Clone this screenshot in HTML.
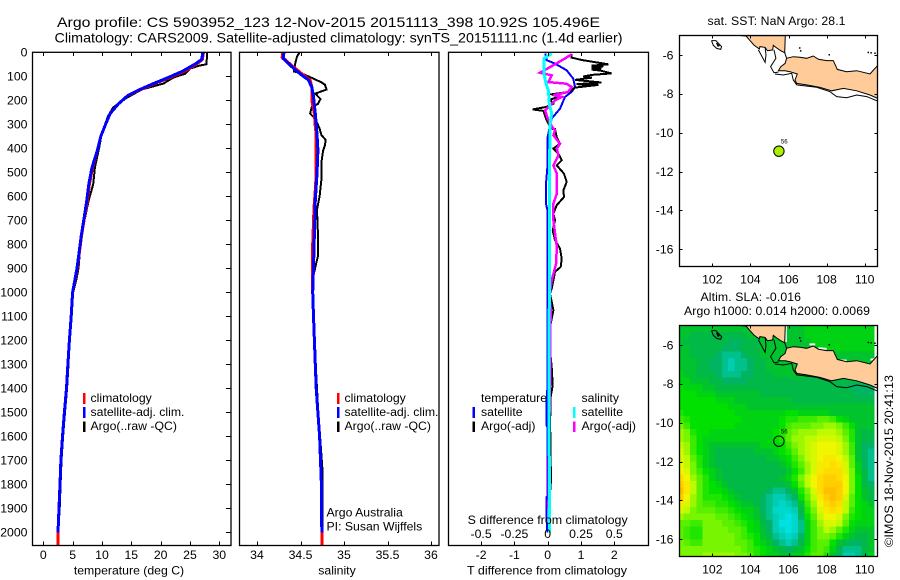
<!DOCTYPE html>
<html lang="en">
<head>
<meta charset="utf-8">
<title>Argo profile chart</title>
<style>
html,body{margin:0;padding:0;background:#fff;}
svg{display:block;font-family:"Liberation Sans",sans-serif;font-size:12.25px;fill:#000;}
text{fill:#000;stroke:none;}
.box{fill:none;stroke:#000;stroke-width:1.3;}
.tick{stroke:#000;stroke-width:1;shape-rendering:crispEdges;}
.ln{fill:none;stroke-linejoin:miter;shape-rendering:crispEdges;}
</style>
</head>
<body>
<svg id="chart" xmlns="http://www.w3.org/2000/svg" width="900" height="580" viewBox="0 0 900 580">
<rect x="0" y="0" width="900" height="580" style="fill:#fff"/>
<text x="57" y="27" font-size="14" textLength="543" lengthAdjust="spacingAndGlyphs">Argo profile: CS 5903952_123 12-Nov-2015 20151113_398 10.92S 105.496E</text>
<text x="54.5" y="42.5" font-size="14" textLength="568" lengthAdjust="spacingAndGlyphs">Climatology: CARS2009. Satellite-adjusted climatology: synTS_20151111.nc (1.4d earlier)</text>

<text x="129" y="574.5" text-anchor="middle">temperature (deg C)</text>
<text x="337" y="574.5" text-anchor="middle">salinity</text>
<text x="547" y="574.5" text-anchor="middle" textLength="160" lengthAdjust="spacingAndGlyphs">T difference from climatology</text>

<g id="layer-profiles"></g>
<g id="layer-maps"></g>

<text x="547.7" y="524" text-anchor="middle" textLength="160" lengthAdjust="spacingAndGlyphs">S difference from climatology</text>

<g>
<rect x="83" y="393" width="2.5" height="11" style="fill:#ff0000"/>
<rect x="83" y="407" width="2.5" height="11" style="fill:#0000ff"/>
<rect x="83" y="421.5" width="2.5" height="10.5" style="fill:#000"/>
<text x="90.5" y="402">climatology</text>
<text x="90.5" y="416">satellite-adj. clim.</text>
<text x="90.5" y="430">Argo(..raw -QC)</text>
</g>
<g>
<rect x="337" y="393" width="2.5" height="11" style="fill:#ff0000"/>
<rect x="337" y="407" width="2.5" height="11" style="fill:#0000ff"/>
<rect x="337" y="421.5" width="2.5" height="10.5" style="fill:#000"/>
<text x="344.5" y="402">climatology</text>
<text x="344.5" y="416">satellite-adj. clim.</text>
<text x="344.5" y="430">Argo(..raw -QC)</text>
<text x="326.5" y="516.5">Argo Australia</text>
<text x="326.5" y="530.5">PI: Susan Wijffels</text>
</g>
<g>
<text x="481" y="402">temperature</text>
<rect x="472.5" y="407" width="2.5" height="11" style="fill:#0000ff"/>
<rect x="472.5" y="421.5" width="2.5" height="10.5" style="fill:#000"/>
<text x="481" y="416">satellite</text>
<text x="481" y="430">Argo(-adj)</text>
<text x="581.5" y="402">salinity</text>
<rect x="573" y="407" width="2.5" height="11" style="fill:#00ffff"/>
<rect x="573" y="421.5" width="2.5" height="10.5" style="fill:#ff00ff"/>
<text x="581.5" y="416">satellite</text>
<text x="581.5" y="430">Argo(-adj)</text>
</g>

<text x="707.5" y="25" textLength="138" lengthAdjust="spacing">sat. SST: NaN  Argo: 28.1</text>
<text x="700.5" y="301" textLength="100.5" lengthAdjust="spacing">Altim. SLA: -0.016</text>
<text x="684" y="315" textLength="186" lengthAdjust="spacing">Argo h1000: 0.014 h2000: 0.0069</text>
<text transform="translate(893,547) rotate(-90)" textLength="172" lengthAdjust="spacingAndGlyphs">©IMOS 18-Nov-2015 20:41:13</text>
</svg>
<script>
// ---------- profile data ----------
var tempTicks = [0, 5, 10, 15, 20, 25, 30];
var salTicks = [34, 34.5, 35, 35.5, 36];
var tDiffTicks = [-2, -1, 0, 1, 2];
var sDiffTicks = [-0.5, -0.25, 0, 0.25, 0.5];
var depthTicks = [0,100,200,300,400,500,600,700,800,900,1000,1100,1200,1300,1400,1500,1600,1700,1800,1900,2000];

var climTempDepth = [0,30,50,78,105,130,160,180,215,255,295,350,410,480,550,620,690,760,900,1000,1100,1200,1300,1400,1500,1600,1700,1800,1900,2000,2055];
var climTemp = [27.3,27.1,26.1,24.1,21.6,19.0,16.2,14.4,12.8,11.4,10.7,9.8,9.2,8.4,7.85,7.5,7.0,6.55,5.8,5.0,4.75,4.45,4.2,3.95,3.6,3.28,3.0,2.85,2.68,2.5,2.5];
var satTempDepth = [0,30,50,78,105,130,160,180,215,255,295,350,410,480,550,620,690,760,900,1000,1100,1200,1300,1400,1500,1600,1700,1800,1900,2000];
var satTemp = [27.2,27.0,25.8,23.8,21.3,18.8,16.0,14.4,12.8,11.4,10.7,9.8,9.2,8.3,7.75,7.4,6.95,6.5,5.75,5.0,4.75,4.45,4.2,3.95,3.6,3.28,3.0,2.85,2.68,2.5];
var argoTempDepth = [0,50,55,68,90,105,130,155,190,230,268,340,395,480,550,620,690,760,900,950,1000,1100,1200,1300,1400,1500,1600,1700,1800,1900,1975];
var argoTemp = [27.95,27.8,26.7,25,24.1,22.2,20.5,16.8,14.2,11.9,11,9.95,9.55,8.8,8.5,7.7,7.1,6.5,6,5.6,5.1,4.8,4.5,4.3,4.05,3.7,3.38,3.1,2.95,2.8,2.6];

var climSalDepth = [0,20,60,88,115,145,200,255,310,340,450,550,650,800,900,1000,1100,1200,1300,1400,1500,1600,1700,1800,2000,2055];
var climSal = [34.295,34.29,34.415,34.51,34.61,34.63,34.63,34.66,34.67,34.68,34.68,34.675,34.655,34.64,34.64,34.64,34.65,34.66,34.67,34.68,34.70,34.72,34.73,34.74,34.745,34.745];
var satSalDepth = [0,26,60,88,115,145,185,255,340,408,505,615,755,895,1000,1100,1200,1300,1400,1500,1600,1700,1800,2000];
var satSal = [34.31,34.30,34.40,34.49,34.59,34.63,34.65,34.67,34.69,34.70,34.69,34.67,34.66,34.65,34.64,34.65,34.66,34.67,34.68,34.70,34.72,34.73,34.74,34.745];
var argoSalDepth = [0,18,45,80,88,100,125,135,155,172,195,215,228,255,277,318,345,365,388,410,460,530,600,655,755,850,895,965,1000,1100,1300,1500,1730,1855,1980];
var argoSal = [34.49,34.46,34.44,34.425,34.51,34.59,34.74,34.78,34.80,34.67,34.73,34.70,34.63,34.61,34.67,34.72,34.74,34.79,34.78,34.76,34.74,34.74,34.72,34.69,34.70,34.70,34.67,34.63,34.64,34.655,34.675,34.705,34.75,34.75,34.75];

var satTDiffDepth = [5,33,47,75,110,144,165,186,235,276,318,353,478,547,631,658,769,922,1019,1400,1457,1554,1560,1850,1855,1935,2000];
var satTDiff = [-0.07,-0.03,0.22,0.57,0.77,0.82,0.72,0.52,0.37,0.12,0.05,0,-0.01,-0.05,-0.05,-0.01,-0.01,0,0,-0.01,-0.04,-0.04,-0.01,-0.01,-0.04,-0.04,-0.01];
var satSalDiffDepth = [5,26,90,130,160,215,255,300,600,1000,1500,2000];
var satSalDiff = [0.03,-0.028,-0.028,-0.013,0.005,0.012,0.03,0.017,0.012,0.012,0.01,0.015];
var argoTDiffDepth = [8,22,32,50,56,58,64,67,72,76,88,94,101,106,115,126,133,136,147,164,175,186,197,214,228,238,244,276,297,318,320,353,381,401,429,450,471,506,540,575,603,637,672,700,742,783,818,860,894,915,950,985,1006,1075,1131,1270,1311,1387,1436,1561,1617,1714,1783,1839,1900];
var argoTDiff = [0.72,0.72,1.02,1.82,1.32,1.67,1.32,1.62,1.32,1.57,1.92,1.32,1.07,1.32,0.82,1.62,0.87,1.52,0.82,0.67,0.12,0.32,0.07,0.17,-0.05,-0.45,-0.13,-0.05,0.02,0.09,0.22,0.27,0.37,0.17,0.35,0.42,0.27,0.49,0.57,0.47,0.49,0.27,0.17,0.22,0.15,0.22,0.37,0.42,0.39,0.22,0.17,0.12,0.07,0.17,0.09,0.09,0.12,0.15,0.09,0.07,0.09,0.09,0.1,0.07,0.04];
var argoSalDiffDepth = [8,26,50,85,96,124,131,144,165,179,186,200,242,276,308,325,346,381,401,429,471,506,589,631,700,811,881,950,1019,1075,1186,1367,1547,1783,1900];
var argoSalDiff = [0.18,0.13,0.055,-0.058,0.03,0.005,0.14,0.18,0.155,0.043,0.105,0.055,-0.02,0,0.03,0.055,0.043,0.093,0.068,0.08,0.043,0.068,0.068,0.043,0.043,0.068,0.063,0.03,0.012,0.023,0.018,0.018,0.012,0.008,0.005];

// ---------- map data ----------
var lonTicks = [102, 104, 106, 108, 110];
var latTicks = [-6, -8, -10, -12, -14, -16];
var floatLon = 105.496;
var floatLat = -10.95;
var sumatraLon = [103.49,103.77,103.98,104.19,104.47,104.50,104.77,104.89,105.17,105.20,105.34,105.59,105.80,105.83];
var sumatraLat = [-5,-5.02,-5.26,-5.49,-5.69,-5.57,-5.61,-5.78,-5.74,-5.50,-5.61,-5.78,-5.88,-5];
var javaLon = [105.47,105.59,105.82,105.90,106.25,106.60,106.95,107.30,107.57,108.00,108.35,108.56,109.05,109.58,110.28,110.46,110.67,110.67,110.28,109.58,108.88,108.27,107.65,106.95,106.43,106.34,106.46,106.08,105.82];
var javaLat = [-6.81,-6.60,-6.43,-6.17,-6.09,-6.12,-6.17,-6.05,-6.22,-6.29,-6.29,-6.74,-6.86,-6.81,-6.98,-6.77,-6.55,-8.23,-8.06,-7.84,-7.72,-7.84,-7.66,-7.54,-7.46,-7.29,-6.98,-6.86,-6.81];
var shelfLon = [105.29,105.73,106.17,106.25,106.43,107.48,108.18,108.53,109.05,109.58,110.11,110.67];
var shelfLat = [-6.98,-7.03,-6.94,-7.29,-7.54,-7.66,-7.89,-8.14,-8.20,-8.06,-8.14,-8.37];
var tipLon = [105.24,105.34,105.06,105.24,105.47];
var tipLat = [-5.74,-6.17,-6.60,-6.91,-6.88];
var westCoastLon = [104.42,104.77,104.82,104.77];
var westCoastLat = [-5.74,-6.38,-6.0,-5.61];
var straitLon = [105.80,105.90];
var straitLat = [-5.88,-6.17];
var islandLon = [101.96,102.19,102.49,102.44,102.23,102.05,101.96];
var islandLat = [-5.26,-5.26,-5.57,-5.71,-5.66,-5.5,-5.26];
var islandInnerLon = [102.22,102.36,102.30,102.22];
var islandInnerLat = [-5.38,-5.52,-5.55,-5.38];
var islesLon = [106.55,106.6,108.1,110.15,110.3,110.5];
var islesLat = [-5.6,-5.75,-5.95,-5.83,-5.85,-5.87];
// White no-data slivers along the coast in the SLA map
var gapStartLon = [107.1,107.57,108.6,110.3,105.86];
var gapStartLat = [-5.97,-6.17,-6.8,-6.75,-5.0];
var gapEndLon = [107.4,108.0,109.05,110.63,105.86];
var gapEndLat = [-5.97,-6.2,-6.8,-6.72,-5.85];

// Sea level anomaly levels (half units), rows from north to south, columns from west to east
var slaLevels = [
[-2,-2,-2,-2,-2,-2,-2,-2,-2,-2,-2,-2,-2,-2,-2,-2,-2,-2,-2,-2,-1,-1,-1,-1,-1,-1,-1,-1,-1,-1,-1],
[-2,-2,-3,-3,-3,-3,-3,-3,-3,-3,-3,-2,-2,-2,-2,-2,-2,-2,-2,-2,-1,-1,-1,-1,-1,-1,-1,-1,-1,-1,-1],
[-2,-3,-3,-3,-3,-3,-3,-3,-4,-4,-3,-3,-3,-2,-2,-2,-2,-2,-2,-2,-2,-1,-1,-1,-1,-1,-1,-1,-1,-1,-1],
[-2,-2,-3,-3,-3,-3,-3,-4,-4,-4,-3,-3,-3,-2,-2,-2,-2,-2,-2,-2,-2,-2,-1,-1,-1,-1,-1,-1,-1,-1,-1],
[-2,-2,-3,-3,-3,-3,-4,-5,-5,-5,-4,-3,-3,-2,-2,-2,-2,-2,-2,-2,-2,-2,-2,-2,-2,-2,-2,-2,-2,-2,-2],
[-2,-2,-2,-3,-3,-4,-4,-5,-6,-5,-5,-4,-3,-3,-2,-2,-2,-2,-2,-2,-2,-2,-2,-2,-2,-2,-2,-2,-2,-2,-2],
[-2,-2,-2,-3,-3,-4,-4,-5,-6,-5,-5,-4,-3,-3,-2,-2,-2,-2,-2,-2,-2,-2,-2,-2,-2,-2,-2,-2,-2,-2,-2],
[-1,-2,-2,-3,-3,-3,-4,-5,-5,-5,-4,-4,-3,-3,-3,-2,-2,-2,-2,-2,-2,-2,-2,-2,-3,-3,-3,-3,-3,-3,-3],
[-1,-1,-2,-2,-2,-3,-3,-4,-4,-4,-4,-3,-3,-3,-3,-3,-3,-3,-3,-3,-3,-3,-3,-3,-3,-3,-3,-3,-3,-4,-4],
[0,-1,-1,-1,-2,-2,-3,-3,-3,-3,-3,-3,-3,-3,-3,-3,-3,-3,-3,-3,-3,-3,-3,-3,-3,-3,-3,-4,-4,-4,-4],
[0,0,0,-1,-1,-1,-2,-2,-2,-2,-2,-2,-2,-3,-3,-3,-3,-3,-3,-3,-3,-3,-3,-3,-3,-3,-3,-3,-4,-4,-4],
[0,0,0,0,0,0,-1,-1,-1,-2,-2,-2,-2,-2,-2,-2,-2,-2,-3,-3,-3,-3,-3,-3,-3,-3,-3,-3,-3,-3,-3],
[0,0,0,0,0,0,0,0,-1,-1,-1,-2,-2,-2,-2,-2,-2,-2,-2,-2,-2,-2,-2,-2,-2,-2,-2,-2,-2,-2,-2],
[1,0,0,0,0,0,0,0,0,-1,-1,-1,-1,-1,-1,-1,-1,0,0,-1,-1,-1,-1,-1,-2,-2,-2,-2,-2,-2,-2],
[2,1,0,0,0,0,0,0,0,0,-1,-1,-1,-1,-1,-1,0,1,1,2,2,2,3,3,2,0,-1,-2,-2,-2,-2],
[4,2,0,0,0,0,0,0,0,-1,-1,-1,-1,-1,-1,-1,0,2,3,3,3,4,4,5,5,4,2,0,-2,-2,-2],
[5,4,1,0,0,-1,-1,-1,-1,-1,-1,-1,-1,-1,-1,0,1,3,4,5,5,5,6,6,6,5,3,1,-2,-3,-3],
[5,4,2,0,-1,-1,-1,-1,-1,-1,-1,-1,-1,-1,-1,0,1,3,5,5,6,6,7,7,7,6,4,1,-2,-3,-3],
[6,5,2,0,-1,-2,-2,-2,-2,-2,-2,-2,-2,-1,-1,-1,0,2,4,5,6,7,8,8,8,7,5,2,-2,-4,-4],
[7,5,2,0,-1,-2,-3,-3,-3,-3,-3,-3,-2,-2,-2,-1,0,1,3,5,6,7,8,8,8,7,5,2,-2,-4,-5],
[7,6,3,1,-1,-2,-3,-3,-3,-3,-3,-3,-3,-3,-2,-2,-1,0,2,4,6,7,8,9,9,8,6,3,-2,-4,-5],
[8,6,4,1,-1,-2,-3,-3,-3,-3,-3,-3,-3,-3,-3,-3,-2,-1,1,3,5,7,9,9,10,9,7,3,-1,-4,-5],
[8,7,4,2,0,-1,-2,-3,-3,-3,-3,-3,-3,-3,-3,-3,-3,-2,0,2,5,7,9,10,10,10,7,4,-1,-3,-5],
[10,8,5,3,1,-1,-2,-3,-3,-3,-3,-3,-3,-3,-3,-3,-2,-1,1,4,6,8,10,11,11,10,8,4,0,-3,-5],
[11,9,6,3,1,0,-1,-2,-3,-3,-3,-3,-3,-3,-3,-3,-3,-2,0,3,6,8,10,11,11,11,8,4,0,-3,-4],
[12,9,6,3,1,0,0,-1,-2,-3,-3,-3,-3,-3,-4,-5,-5,-4,-2,1,4,7,10,12,12,11,8,4,0,-2,-3],
[11,8,5,3,1,1,1,0,-1,-2,-3,-3,-3,-4,-5,-6,-6,-5,-4,0,3,6,9,11,12,11,7,3,0,-2,-3],
[9,7,5,3,2,2,1,1,0,-1,-2,-2,-3,-4,-5,-6,-7,-6,-5,-2,2,5,8,10,11,10,6,3,0,-1,-2],
[7,6,4,3,3,3,2,2,1,0,-1,-1,-2,-4,-5,-7,-7,-7,-6,-3,1,4,7,9,10,9,6,2,0,-1,-1],
[5,4,4,4,4,4,3,3,2,1,0,-1,-2,-3,-5,-6,-7,-8,-7,-4,0,3,6,8,8,7,4,1,0,-1,-1],
[3,3,2,2,4,4,4,3,3,2,1,0,-1,-3,-4,-6,-8,-8,-7,-5,-1,2,5,7,7,6,3,0,-1,-1,-1],
[3,2,1,1,4,4,4,4,3,3,2,0,-1,-2,-4,-6,-7,-8,-7,-5,-1,2,4,6,5,3,1,-1,-2,-2,-2],
[3,2,1,1,4,4,4,4,4,3,2,1,0,-2,-3,-5,-6,-7,-6,-4,-1,2,4,4,3,1,-1,-2,-3,-3,-2],
[4,3,2,2,4,4,4,4,4,3,3,2,0,-1,-2,-4,-5,-6,-5,-3,-1,2,3,3,0,-2,-3,-4,-4,-3,-2],
[4,4,4,4,4,4,4,4,4,4,3,2,1,0,-1,-2,-3,-4,-3,-2,0,2,3,2,-1,-3,-5,-5,-5,-3,-2],
[4,4,4,4,5,5,5,5,5,4,4,3,1,0,-1,-1,-2,-2,-1,-1,1,3,3,1,-2,-4,-6,-6,-5,-3,-1]
];
var slaColorLevels = [-8,-6,-4,-3,-2,-1,0,2,4,6,8,10,12];
var slaColorR = [0,0,0,0,0,0,0,60,120,190,240,255,255];
var slaColorG = [225,205,180,185,195,210,225,235,245,250,245,220,190];
var slaColorB = [225,180,100,70,45,20,0,0,0,0,0,0,0];

// ---------- helpers ----------
var SVGNS = 'http://www.w3.org/2000/svg';
function mk(tag, attrs, parent) {
  var el = document.createElementNS(SVGNS, tag);
  for (var k in attrs) { el.setAttribute(k, attrs[k]); }
  parent.appendChild(el);
  return el;
}
function depthY(d) { return 52.3 + d * 0.24; }
function linear(v0, p0, v1, p1) { return function (v) { return p0 + (v - v0) * (p1 - p0) / (v1 - v0); }; }

var profileLayer = document.getElementById('layer-profiles');
var mapLayer = document.getElementById('layer-maps');

var panels = [
  {name: 'temperature', x0: 32.5, x1: 231, xAxis: linear(0, 43.3, 30, 219.3)},
  {name: 'salinity', x0: 239.5, x1: 439, xAxis: linear(34, 257, 36, 431)},
  {name: 'difference', x0: 448.5, x1: 648.5, xAxis: linear(0, 547.7, 2, 614.3), sAxis: linear(0, 547.7, 0.5, 614.3)}
];
var plotBottom = 545.5;

function drawProfile(panelGroup, xFn, depths, values, color, width, name) {
  var pts = [];
  for (var i = 0; i < depths.length && i < values.length; i++) {
    pts.push(xFn(values[i]).toFixed(1) + ',' + depthY(depths[i]).toFixed(1));
  }
  var line = mk('polyline', {'class': 'ln', points: pts.join(' '), stroke: color, 'stroke-width': width, 'clip-path': 'url(#panel-clip)'}, panelGroup);
  
  
}

function drawXTicks(g, xFn, ticks, labelY) {
  ticks.forEach(function (t) {
    var x = Math.round(xFn(t)) + 0.5;
    var top = mk('line', {'class': 'tick', x1: x, x2: x, y1: 52, y2: 56}, g);
    
    
    var bot = mk('line', {'class': 'tick', x1: x, x2: x, y1: plotBottom - 4, y2: plotBottom}, g);
    
    
    var lab = mk('text', {x: xFn(t), y: labelY, 'text-anchor': 'middle'}, g);
    lab.textContent = String(t);
    
    
  });
}

// ---------- profile panels ----------
var defs = mk('defs', {}, profileLayer);
var clipA = mk('clipPath', {id: 'panel-clip', clipPathUnits: 'userSpaceOnUse'}, defs);
mk('rect', {x: 0, y: 52, width: 660, height: 493.5}, clipA);

var panelT = mk('g', {}, profileLayer);


var panelS = mk('g', {}, profileLayer);


var panelD = mk('g', {}, profileLayer);



drawProfile(panelT, panels[0].xAxis, argoTempDepth, argoTemp, '#000', 2, 'argo-temperature-line');
drawProfile(panelT, panels[0].xAxis, climTempDepth, climTemp, '#ff0000', 3, 'climatology-temperature-line');
drawProfile(panelT, panels[0].xAxis, satTempDepth, satTemp, '#0000ff', 3, 'satellite-temperature-line');

drawProfile(panelS, panels[1].xAxis, argoSalDepth, argoSal, '#000', 2, 'argo-salinity-line');
drawProfile(panelS, panels[1].xAxis, climSalDepth, climSal, '#ff0000', 3, 'climatology-salinity-line');
drawProfile(panelS, panels[1].xAxis, satSalDepth, satSal, '#0000ff', 3, 'satellite-salinity-line');

drawProfile(panelD, panels[2].xAxis, satTDiffDepth, satTDiff, '#0000ff', 2, 'satellite-t-difference-line');
drawProfile(panelD, panels[2].xAxis, argoTDiffDepth, argoTDiff, '#000', 2, 'argo-t-difference-line');
drawProfile(panelD, panels[2].sAxis, argoSalDiffDepth, argoSalDiff, '#ff00ff', 2.5, 'argo-s-difference-line');
drawProfile(panelD, panels[2].sAxis, satSalDiffDepth, satSalDiff, '#00ffff', 3, 'satellite-s-difference-line');

[panelT, panelS, panelD].forEach(function (g, i) {
  var b = mk('rect', {'class': 'box', x: panels[i].x0, y: 52.3, width: panels[i].x1 - panels[i].x0, height: plotBottom - 52.3}, g);
  
  
});

drawXTicks(panelT, panels[0].xAxis, tempTicks, 559);
drawXTicks(panelS, panels[1].xAxis, salTicks, 559);
drawXTicks(panelD, panels[2].xAxis, tDiffTicks, 559);

sDiffTicks.forEach(function (t) {
  var lab = mk('text', {x: panels[2].sAxis(t), y: 538, 'text-anchor': 'middle'}, panelD);
  lab.textContent = String(t);
  
  
});

depthTicks.forEach(function (d) {
  var y = Math.round(depthY(d)) + 0.5;
  var t = mk('line', {'class': 'tick', x1: 226, x2: 231, y1: y, y2: y}, panelT);
  
  
  var lab = mk('text', {x: 27.5, y: depthY(d) + 4.3, 'text-anchor': 'end'}, panelT);
  lab.textContent = String(d);
  
  
});

// ---------- maps ----------
function slaColor(v) {
  var n = slaColorLevels.length, i = 0;
  if (v <= slaColorLevels[0]) { i = 0; v = slaColorLevels[0]; }
  else if (v >= slaColorLevels[n - 1]) { i = n - 2; v = slaColorLevels[n - 1]; }
  else { while (v > slaColorLevels[i + 1]) { i++; } }
  var f = (v - slaColorLevels[i]) / (slaColorLevels[i + 1] - slaColorLevels[i]);
  var c = function (a) { return Math.round(a[i] + (a[i + 1] - a[i]) * f); };
  return 'rgb(' + c(slaColorR) + ',' + c(slaColorG) + ',' + c(slaColorB) + ')';
}

function drawMap(yOff, name, withHeat) {
  var g = mk('g', {}, mapLayer);
  
  
  var lonX = linear(102, 712.3, 110, 864.7);
  var latY = linear(-6, 55 + yOff, -16, 249.3 + yOff);
  var left = 679.5, right = 877.5, top = 35.5 + yOff, bottom = 266.5 + yOff;
  var cid = 'map-clip-' + yOff;
  var cp = mk('clipPath', {id: cid}, g);
  mk('rect', {x: left, y: top, width: right - left, height: bottom - top}, cp);
  var inner = mk('g', {'clip-path': 'url(#' + cid + ')'}, g);

  function pts(lons, lats) {
    return lons.map(function (lon, i) { return lonX(lon).toFixed(1) + ',' + latY(lats[i]).toFixed(1); }).join(' ');
  }

  if (withHeat) {
    slaLevels.forEach(function (row, r) {
      row.forEach(function (v, c) {
        var lonA = 100.33 + (c - 0.5) / 3, latA = -5 - r / 3;
        var xA = lonX(lonA), yA = latY(latA);
        var cell = mk('rect', {x: xA.toFixed(2), y: yA.toFixed(2), width: (lonX(lonA + 1 / 3) - xA + 0.4).toFixed(2), height: (latY(latA - 1 / 3) - yA + 0.4).toFixed(2), fill: slaColor(v), 'shape-rendering': 'crispEdges'}, inner);
        
        
      });
    });
    gapStartLon.forEach(function (lon, i) {
      var gap = mk('line', {x1: lonX(lon), y1: latY(gapStartLat[i]), x2: lonX(gapEndLon[i]), y2: latY(gapEndLat[i]), stroke: '#fff', 'stroke-width': 2}, inner);
      
      
    });
  }

  var lands = [[sumatraLon, sumatraLat, 'sumatra-land'], [javaLon, javaLat, 'java-land']];
  lands.forEach(function (l) {
    var poly = mk('polygon', {points: pts(l[0], l[1]), fill: '#ffcc99', stroke: '#000', 'stroke-width': 1}, inner);
    
    
  });

  var coastLines = [[shelfLon, shelfLat, 'shelf-line'], [tipLon, tipLat, 'sumatra-tip-line'], [westCoastLon, westCoastLat, 'west-coast-line'], [straitLon, straitLat, 'strait-line'], [islandLon, islandLat, 'island-outline'], [islandInnerLon, islandInnerLat, 'island-inner-outline']];
  coastLines.forEach(function (l) {
    var cl = mk('polyline', {points: pts(l[0], l[1]), fill: 'none', stroke: '#000', 'stroke-width': 1}, inner);
    
    
  });

  islesLon.forEach(function (lon, i) {
    var isle = mk('rect', {x: lonX(lon), y: latY(islesLat[i]), width: 1.5, height: 1.5, fill: '#000'}, inner);
    
    
  });

  var marker = mk('circle', {cx: lonX(floatLon), cy: latY(floatLat), r: 5.2, fill: withHeat ? 'none' : '#aaf000', stroke: '#000', 'stroke-width': 1}, inner);
  
  
  var markerLab = mk('text', {x: lonX(floatLon) + 2, y: latY(floatLat) - 7.5, 'font-size': 6}, inner);
  markerLab.textContent = '56';
  
  

  var frame = mk('rect', {'class': 'box', x: left, y: top, width: right - left, height: bottom - top}, g);
  
  

  lonTicks.forEach(function (lon) {
    var x = Math.round(lonX(lon)) + 0.5;
    var t1 = mk('line', {'class': 'tick', x1: x, x2: x, y1: top, y2: top + 3}, g);
    
    
    var t2 = mk('line', {'class': 'tick', x1: x, x2: x, y1: bottom - 3, y2: bottom}, g);
    
    
    var lab = mk('text', {x: lonX(lon), y: 283.5 + yOff, 'text-anchor': 'middle'}, g);
    lab.textContent = String(lon);
    
    
  });
  latTicks.forEach(function (lat) {
    var y = Math.round(latY(lat)) + 0.5;
    var t1 = mk('line', {'class': 'tick', x1: left, x2: left + 3, y1: y, y2: y}, g);
    
    
    var t2 = mk('line', {'class': 'tick', x1: right - 3, x2: right, y1: y, y2: y}, g);
    
    
    var lab = mk('text', {x: 673.5, y: latY(lat) + 4.3, 'text-anchor': 'end'}, g);
    lab.textContent = String(lat);
    
    
  });
}

drawMap(0, 'sst-map', false);
drawMap(290, 'sla-map', true);
</script>
</body>
</html>
